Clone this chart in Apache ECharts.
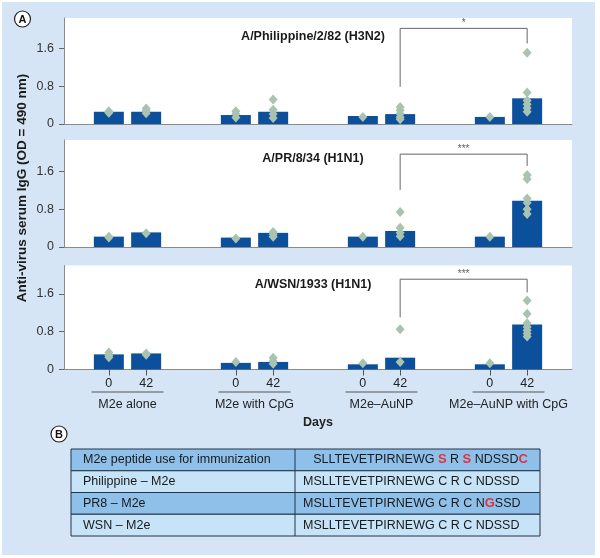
<!DOCTYPE html>
<html><head><meta charset="utf-8">
<script src="https://cdn.jsdelivr.net/npm/echarts@6/dist/echarts.min.js"></script>
<style>html,body{margin:0;padding:0;background:#fff}#c{width:600px;height:558px}</style>
</head><body><div id="c"></div>
<script>
// ---------- data ----------
const groups = ['M2e alone', 'M2e with CpG', 'M2e\u2013AuNP', 'M2e\u2013AuNP with CpG'];
const days = ['0', '42'];
const yTicks = [0, 0.8, 1.6];
const panelTitles = ['A/Philippine/2/82 (H3N2)', 'A/PR/8/34 (H1N1)', 'A/WSN/1933 (H1N1)'];

const philDay0 = [0.26, 0.19, 0.17, 0.15];
const philDay42 = [0.26, 0.26, 0.21, 0.545];
const pr8Day0 = [0.22, 0.20, 0.22, 0.22];
const pr8Day42 = [0.31, 0.30, 0.34, 0.98];
const wsnDay0 = [0.32, 0.14, 0.11, 0.11];
const wsnDay42 = [0.34, 0.16, 0.25, 0.95];

const philPts0 = [[0.27, 0.25, 0.24], [0.27, 0.21, 0.14], [0.15], [0.15]];
const philPts42 = [[0.33, 0.28, 0.23], [0.52, 0.30, 0.21, 0.13], [0.36, 0.29, 0.22, 0.15, 0.10], [1.51, 0.67, 0.50, 0.42, 0.34, 0.26]];
const pr8Pts0 = [[0.22, 0.20], [0.18], [0.22], [0.22]];
const pr8Pts42 = [[0.29], [0.32, 0.27, 0.22], [0.74, 0.41, 0.30, 0.23], [1.53, 1.44, 1.03, 0.94, 0.80, 0.70]];
const wsnPts0 = [[0.36, 0.30, 0.26], [0.16], [0.13], [0.13]];
const wsnPts42 = [[0.34, 0.31], [0.25, 0.18, 0.12], [0.85, 0.16], [1.46, 1.18, 0.98, 0.90, 0.83, 0.76, 0.70]];

// brackets: [left low, top, right low], from group 2 to group 3 (day 42)
const philBracket = [0.79, 2.03, 1.71];
const pr8Bracket = [1.21, 1.97, 1.72];
const wsnBracket = [1.10, 1.91, 1.63];
const sigLabels = ['*', '***', '***'];

const tableLeft = ['M2e peptide use for immunization', 'Philippine \u2013 M2e', 'PR8 \u2013 M2e', 'WSN \u2013 M2e'];
const tableRight = ['SLLTEVETPIRNEWG {r|S} R {r|S} NDSSD{r|C}', 'MSLLTEVETPIRNEWG C R C NDSSD', 'MSLLTEVETPIRNEWG C R C N{r|G}SSD', 'MSLLTEVETPIRNEWG C R C NDSSD'];

// ---------- layout / style ----------
const FONT = "'Liberation Sans', Arial, Helvetica, sans-serif";
const W = 600;
const gridLeft = 64, gridRight = 28;
const gridW = W - gridLeft - gridRight;
const bandPx = gridW / groups.length;
const barW = 30, gapPx = 7.3;
const dayOff = (barW + gapPx) / 2 / bandPx;
const BAR = '#0c4f9b', DOT = '#a9c3b0', AXIS = '#8a8a8a';

const panels = [
  {title: panelTitles[0], d0: philDay0, d42: philDay42, p0: philPts0, p42: philPts42, br: philBracket, top: 18, height: 106, max: 2.25},
  {title: panelTitles[1], d0: pr8Day0, d42: pr8Day42, p0: pr8Pts0, p42: pr8Pts42, br: pr8Bracket, top: 140, height: 107, max: 2.27},
  {title: panelTitles[2], d0: wsnDay0, d42: wsnDay42, p0: wsnPts0, p42: wsnPts42, br: wsnBracket, top: 265.5, height: 104, max: 2.2}
];

const grids = [], xAxes = [], yAxes = [], series = [], graphics = [];
const dayCenters = [];
groups.forEach((g, i) => { dayCenters.push(i + 0.5 - dayOff, i + 0.5 + dayOff); });

panels.forEach((p, i) => {
  const last = i === panels.length - 1;
  grids.push({left: gridLeft, right: gridRight, top: p.top, height: p.height, show: true, backgroundColor: '#fff', borderWidth: 0});
  xAxes.push({
    type: 'category', gridIndex: i, data: groups, position: 'bottom',
    axisLine: {show: true, lineStyle: {color: AXIS, width: 1}},
    axisTick: {show: false},
    axisLabel: last ? {
      show: true, interval: 0, margin: 22,
      formatter: v => '{l|}\n{t|' + v + '}',
      rich: {
        l: {width: 72, height: 1, lineHeight: 1, backgroundColor: '#555'},
        t: {fontSize: 12.5, color: '#222', fontFamily: FONT, lineHeight: 16, padding: [8, 0, 0, 0]}
      }
    } : {show: false},
    name: last ? 'Days' : '', nameLocation: 'middle', nameGap: 47,
    nameTextStyle: {fontSize: 12.5, fontWeight: 'bold', color: '#222', fontFamily: FONT}
  });
  xAxes.push({
    type: 'value', gridIndex: i, min: 0, max: groups.length, position: 'bottom',
    show: last,
    axisLine: {show: false}, splitLine: {show: false},
    axisTick: {show: last, customValues: dayCenters, length: 6, lineStyle: {color: '#555'}},
    axisLabel: {show: last, customValues: dayCenters, margin: 8, fontSize: 12.5, color: '#222', fontFamily: FONT,
      formatter: v => (v - Math.floor(v) < 0.5 ? days[0] : days[1])}
  });
  yAxes.push({
    type: 'value', gridIndex: i, min: 0, max: p.max, interval: 0.8,
    axisLine: {show: true, lineStyle: {color: AXIS, width: 1}},
    axisTick: {show: true, length: 5, customValues: yTicks, lineStyle: {color: '#666'}},
    axisLabel: {customValues: yTicks, fontSize: 12.5, color: '#333', margin: 10, fontFamily: FONT,
      formatter: v => (v > 1.7 ? '' : String(v))},
    splitLine: {show: false}
  });
  const xc = 2 * i, xv = 2 * i + 1;
  series.push({type: 'bar', name: days[0], xAxisIndex: xc, yAxisIndex: i, data: p.d0, barWidth: barW,
    barGap: (gapPx / barW * 100) + '%', itemStyle: {color: BAR}, silent: true});
  series.push({type: 'bar', name: days[1], xAxisIndex: xc, yAxisIndex: i, data: p.d42, barWidth: barW,
    barGap: (gapPx / barW * 100) + '%', itemStyle: {color: BAR}, silent: true});
  [p.p0, p.p42].forEach((pts, d) => {
    const data = [];
    pts.forEach((arr, g) => arr.forEach(v => data.push([g + 0.5 + (d === 0 ? -dayOff : dayOff), v])));
    series.push({type: 'scatter', xAxisIndex: xv, yAxisIndex: i, data, symbol: 'diamond', symbolSize: [9, 10],
      itemStyle: {color: DOT, opacity: 1}, silent: true, z: 5});
  });
  const xl = 2.5 + dayOff, xr = 3.5 + dayOff;
  series.push({type: 'line', xAxisIndex: xv, yAxisIndex: i, symbol: 'none', silent: true,
    lineStyle: {color: '#666', width: 1}, z: 6,
    data: [[xl, p.br[0]], [xl, p.br[1]], [xr, p.br[1]], [xr, p.br[2]]]});
  series.push({type: 'scatter', xAxisIndex: xv, yAxisIndex: i, symbolSize: 0, silent: true, z: 6,
    data: [[(xl + xr) / 2, p.br[1]]],
    label: {show: true, position: 'top', distance: 0, formatter: sigLabels[i], fontSize: 10, color: '#333', fontFamily: FONT}});
  // panel title
  graphics.push({type: 'text', x: 313, y: p.top + 19, z: 10,
    style: {text: p.title, fontSize: 12.5, fontWeight: 'bold', fontFamily: FONT, fill: '#1a1a1a',
      align: 'center', verticalAlign: 'middle', textAlign: 'center', textVerticalAlign: 'middle'}});
});

// background
graphics.unshift({type: 'rect', z: -100, silent: true, shape: {x: 2, y: 2, width: 593, height: 553},
  style: {fill: '#d6e5f5'}});

// y-axis title
graphics.push({type: 'text', x: 22, y: 188, rotation: Math.PI / 2, z: 10,
  style: {text: 'Anti-virus serum IgG (OD = 490 nm)', fontSize: 13.5, fontWeight: 'bold', fontFamily: FONT,
    fill: '#1a1a1a', align: 'center', verticalAlign: 'middle', textAlign: 'center', textVerticalAlign: 'middle'}});

// circled panel letters
[['A', 22.5, 19], ['B', 59, 434]].forEach(([t, cx, cy]) => {
  graphics.push({type: 'circle', z: 10, shape: {cx, cy, r: 8}, style: {fill: '#fff', stroke: '#222', lineWidth: 1.2}});
  graphics.push({type: 'text', x: cx, y: cy + 0.5, z: 11,
    style: {text: t, fontSize: 11, fontWeight: 'bold', fontFamily: FONT, fill: '#111',
      align: 'center', verticalAlign: 'middle', textAlign: 'center', textVerticalAlign: 'middle'}});
});

// table
const tx0 = 71, tx1 = 540, tcol = 295, ty0 = 449, rowH = 21.75;
const rowFill = ['#8fc0e9', '#c7e3f7', '#8fc0e9', '#c7e3f7'];
tableLeft.forEach((txt, r) => {
  const y = ty0 + r * rowH;
  graphics.push({type: 'rect', z: 10, shape: {x: tx0, y, width: tx1 - tx0, height: rowH},
    style: {fill: rowFill[r], stroke: '#22354a', lineWidth: 1}});
  graphics.push({type: 'text', x: tx0 + 12, y: y + rowH / 2, z: 12,
    style: {text: txt, fontSize: 12.5, fontFamily: FONT, fill: '#1a1a1a',
      align: 'left', verticalAlign: 'middle', textAlign: 'left', textVerticalAlign: 'middle'}});
  const header = r === 0;
  graphics.push({type: 'text', x: header ? (tcol + tx1) / 2 + 3 : tcol + 8, y: y + rowH / 2, z: 12,
    style: {text: tableRight[r], fontSize: 12.5, fontFamily: FONT, fill: '#1a1a1a',
      align: header ? 'center' : 'left', verticalAlign: 'middle',
      textAlign: header ? 'center' : 'left', textVerticalAlign: 'middle',
      rich: {r: {fill: '#e2323e', color: '#e2323e', fontWeight: 'bold', fontSize: 13, fontFamily: FONT}}}});
});
graphics.push({type: 'line', z: 11, shape: {x1: tcol, y1: ty0, x2: tcol, y2: ty0 + 4 * rowH},
  style: {stroke: '#22354a', lineWidth: 1}});

const chart = echarts.init(document.getElementById('c'));
chart.setOption({
  animation: false,
  backgroundColor: '#fff',
  grid: grids, xAxis: xAxes, yAxis: yAxes, series,
  graphic: {elements: graphics}
});
</script></body></html>
